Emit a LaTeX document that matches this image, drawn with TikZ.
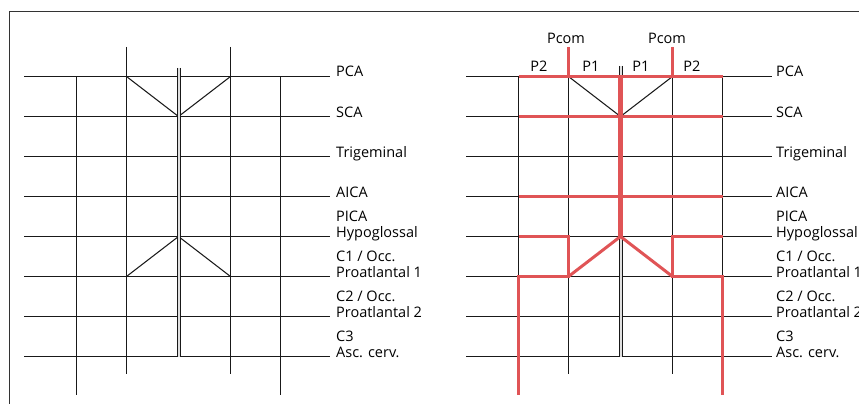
\documentclass[tikz,border=0pt]{standalone}
\usepackage{fontspec}
\newfontfamily\labfont{Open Sans}
\definecolor{artred}{RGB}{224,84,86}
\definecolor{gridblk}{RGB}{25,25,25}
\begin{document}
\begin{tikzpicture}[x=1pt,y=-1pt,
  gridline/.style={line width=1.05pt, draw=gridblk},
  redline/.style={line width=3pt, draw=artred, line join=miter},
  redtrunk/.style={line width=5pt, draw=artred},
  thinline/.style={line width=0.9pt, draw=gridblk},
  lab/.style={font=\labfont\fontsize{14.5}{16}\selectfont, anchor=base west, inner sep=0pt},
  clab/.style={font=\labfont\fontsize{14.5}{16}\selectfont, anchor=base, inner sep=0pt}]
\useasboundingbox (0,0) rectangle (859,404);
\clip (0,0) rectangle (859,404);
% frame
\draw[line width=1.4pt, draw=black!80] (9.5,410) -- (9.5,11.5) -- (870,11.5);
% both panels
\foreach \dx/\lx/\top in {0/336/68, 442/776/66} {
  \begin{scope}[xshift=\dx]
    \foreach \k in {0,...,7} {
      \draw[gridline] (24,76.5+40*\k) -- (330,76.5+40*\k);
    }
    \draw[gridline] (76.5,76.5) -- (76.5,395);
    \draw[gridline] (280.5,76.5) -- (280.5,395);
    \draw[gridline] (126.5,47) -- (126.5,374);
    \draw[gridline] (230.5,47) -- (230.5,374);
    \draw[gridline] (126.5,76.5) -- (178.5,116.5) -- (230.5,76.5);
    \draw[gridline] (126.5,276.5) -- (178.5,236.5) -- (230.5,276.5);
    \fill[black!12] (177,\top) rectangle (180.2,356.5);
    \draw[thinline] (177,\top) -- (177,356.5);
    \draw[thinline] (180.2,\top) -- (180.2,356.5);
  \end{scope}
  \node[lab] (pca\dx) at (\lx,77) {PCA};
  \node[lab] (sca\dx) at (\lx,117) {SCA};
  \node[lab] (tri\dx) at (\lx,157) {Trigeminal};
  \node[lab] (aica\dx) at (\lx,197) {AICA};
  \node[lab] (pica\dx) at (\lx,221) {PICA};
  \node[lab] (hyp\dx) at (\lx,237) {Hypoglossal};
  \node[lab] (c1\dx) at (\lx,261) {C1 / Occ.};
  \node[lab] (pro1\dx) at (\lx,277) {Proatlantal 1};
  \node[lab] (c2\dx) at (\lx,301) {C2 / Occ.};
  \node[lab] (pro2\dx) at (\lx,317) {Proatlantal 2};
  \node[lab] (c3\dx) at (\lx,341) {C3};
  \node[lab] (asc\dx) at (\lx,357) {Asc. cerv.};
}
% red overlay, right panel
\draw[redline] (568.5,47) -- (568.5,76.5);
\draw[redline] (672.5,47) -- (672.5,76.5);
\draw[redline] (518.5,76.5) -- (722.5,76.5);
\draw[redline] (518.5,116.5) -- (722.5,116.5);
\draw[redline] (518.5,196.5) -- (722.5,196.5);
\draw[redline] (518.5,236.5) -- (568.5,236.5) -- (568.5,276.5) -- (518.5,276.5) -- (518.5,395);
\draw[redline] (722.5,236.5) -- (672.5,236.5) -- (672.5,276.5) -- (722.5,276.5) -- (722.5,395);
\draw[redline] (568.5,276.5) -- (620.5,236.5) -- (672.5,276.5);
\draw[redtrunk] (620.5,75.5) -- (620.5,237);
% labels right panel top
\node[clab] (pcoml) at (566,43.5) {Pcom};
\node[clab] (pcomr) at (667,43.5) {Pcom};
\node[clab] (p2l) at (539,71) {P2};
\node[clab] (p1l) at (591,71) {P1};
\node[clab] (p1r) at (641,71) {P1};
\node[clab] (p2r) at (692,71) {P2};
\end{tikzpicture}
\end{document}
